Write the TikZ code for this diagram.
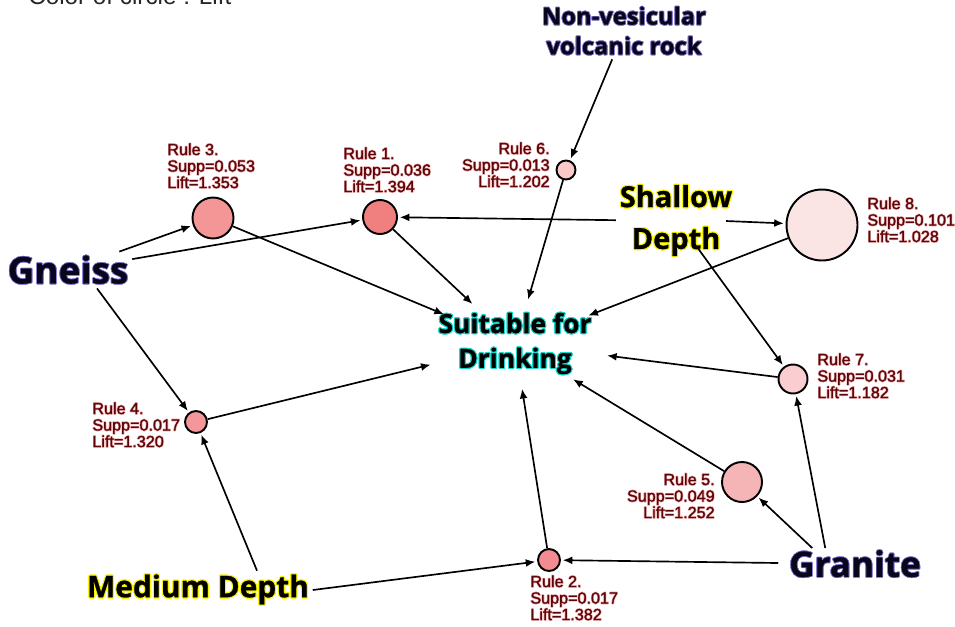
\documentclass[tikz,border=0pt]{standalone}
\usepackage{fontspec}
\setmainfont{Liberation Sans}
\newfontfamily\boldlbl{Open Sans}[BoldFeatures={FakeBold=0.8}]
\newfontfamily\rulefont{Liberation Sans}[FakeBold=1.4]
\usepackage{contour}
\usetikzlibrary{arrows.meta, positioning, shapes.geometric, calc}
\definecolor{navytxt}{RGB}{8,6,28}
\definecolor{navyglow}{RGB}{140,130,215}
\definecolor{drinkglow}{RGB}{20,215,205}
\definecolor{depthglow}{RGB}{250,245,0}
\definecolor{lblred}{RGB}{95,4,8}
\definecolor{lblglow}{RGB}{250,205,205}
\newcommand{\rl}[1]{\contour{lblglow}{#1}}

\begin{document}
\begin{tikzpicture}[x=0.02cm, y=-0.02cm,
    rulecirc/.style={circle, draw=black, line width=1.1pt, inner sep=0pt},
    rulelbl/.style={font=\rulefont\fontsize{9.2}{9.4}\selectfont, text=lblred, inner sep=0pt},
    bigword/.style={inner sep=2pt, align=center},
    link/.style={-{Latex[length=5.5pt,width=4.5pt]}, line width=.95pt, shorten >=1pt}]
\useasboundingbox (0,0) rectangle (955,626);
\fill[white] (0,0) rectangle (955,626);

% heading, cut off at the top edge
\node[anchor=base west, inner sep=0pt, font=\fontsize{13.8}{16}\selectfont, text=black!85] (title) at (28,4) {Color of circle : Lift};

% words
\contourlength{.4pt}
\node[bigword, text=navytxt, font={\boldlbl\bfseries\fontsize{21}{24}\selectfont}] (gneiss) at (68,270) {\contour{navyglow}{Gneiss}};
\node[bigword, text=navytxt, font={\boldlbl\bfseries\fontsize{20}{24}\selectfont}, inner xsep=6pt, inner ysep=1pt] (granite) at (855,564) {\contour{navyglow}{Granite}};
\node[bigword, text=navytxt, font={\boldlbl\bfseries\fontsize{13.5}{17}\selectfont}] (nonves) at (624,31) {\contour{navyglow}{Non-vesicular}\\\contour{navyglow}{volcanic rock}};
\contourlength{.6pt}
\node[bigword, font={\boldlbl\bfseries\fontsize{16.5}{23.8}\selectfont}] (shallow) at (676,221) {\contour{depthglow}{Shallow}\\\contour{depthglow}{Depth}};
\node[bigword, font={\boldlbl\bfseries\fontsize{17}{20}\selectfont}] (medium) at (198,590) {\contour{depthglow}{Medium Depth}};
\node[ellipse, inner xsep=-6pt, inner ysep=-.5pt, align=center, font={\boldlbl\bfseries\fontsize{15}{19.8}\selectfont}] (drink) at (515,344) {\contour{drinkglow}{Suitable for}\\\contour{drinkglow}{Drinking}};

% rules, circle size = support, colour = lift
\node[rulecirc, minimum size=.82cm, fill={rgb,255:red,245;green,150;blue,150}] (r3) at (213,218) {};
\node[rulecirc, minimum size=.68cm, fill={rgb,255:red,240;green,128;blue,128}] (r1) at (380,217) {};
\node[rulecirc, minimum size=.38cm, fill={rgb,255:red,250;green,200;blue,200}] (r6) at (566,170) {};
\node[rulecirc, minimum size=1.42cm, fill={rgb,255:red,250;green,228;blue,228}] (r8) at (822,225) {};
\node[rulecirc, minimum size=.58cm, fill={rgb,255:red,250;green,205;blue,208}] (r7) at (793,379) {};
\node[rulecirc, minimum size=.8cm, fill={rgb,255:red,245;green,180;blue,182}] (r5) at (742,482) {};
\node[rulecirc, minimum size=.44cm, fill={rgb,255:red,245;green,150;blue,155}] (r4) at (196,422) {};
\node[rulecirc, minimum size=.44cm, fill={rgb,255:red,242;green,140;blue,145}] (r2) at (549,560) {};

\contourlength{.3pt}
\node[rulelbl, anchor=north west, align=left] (l3) at (167,143) {\rl{Rule 3.}\\\rl{Supp=0.053}\\\rl{Lift=1.353}};
\node[rulelbl, anchor=north west, align=left] (l1) at (343,147) {\rl{Rule 1.}\\\rl{Supp=0.036}\\\rl{Lift=1.394}};
\node[rulelbl, anchor=north east, align=right] (l6) at (550,142) {\rl{Rule 6.}\\\rl{Supp=0.013}\\\rl{Lift=1.202}};
\node[rulelbl, anchor=north west, align=left] (l8) at (867,197) {\rl{Rule 8.}\\\rl{Supp=0.101}\\\rl{Lift=1.028}};
\node[rulelbl, anchor=north west, align=left] (l7) at (817,353) {\rl{Rule 7.}\\\rl{Supp=0.031}\\\rl{Lift=1.182}};
\node[rulelbl, anchor=north east, align=right] (l5) at (715,473) {\rl{Rule 5.}\\\rl{Supp=0.049}\\\rl{Lift=1.252}};
\node[rulelbl, anchor=north west, align=left] (l4) at (92,402) {\rl{Rule 4.}\\\rl{Supp=0.017}\\\rl{Lift=1.320}};
\node[rulelbl, anchor=north west, align=left] (l2) at (530,575) {\rl{Rule 2.}\\\rl{Supp=0.017}\\\rl{Lift=1.382}};

% links
\draw[link] (gneiss) -- (r3);
\draw[link] (gneiss) -- (r1);
\draw[link] ($(gneiss.south)+(29,0)$) -- (r4);
\draw[link] (r3) -- (drink);
\draw[link] (r1) -- (drink);
\draw[link] (nonves) -- (r6);
\draw[link] (r6) -- (drink);
\draw[link] (shallow) -- (r1);
\draw[link] ($(shallow.east)+(-10,0)$) -- (r8);
\draw[link] ($(shallow.center)+(21,26)$) -- (r7);
\draw[link] (r8) -- (drink);
\draw[link] (r7) -- (drink);
\draw[link] ($(granite.north west)+(34,0)$) -- (r5);
\draw[link] ($(granite.north west)+(47,0)$) -- (r7);
\draw[link] (granite) -- (r2);
\draw[link] (r5) -- (drink);
\draw[link] (r2) -- (drink);
\draw[link] (medium.east) -- (r2);
\draw[link] ($(medium.north)+(59,0)$) -- (r4);
\draw[link] (r4) -- (drink);
\end{tikzpicture}
\end{document}
